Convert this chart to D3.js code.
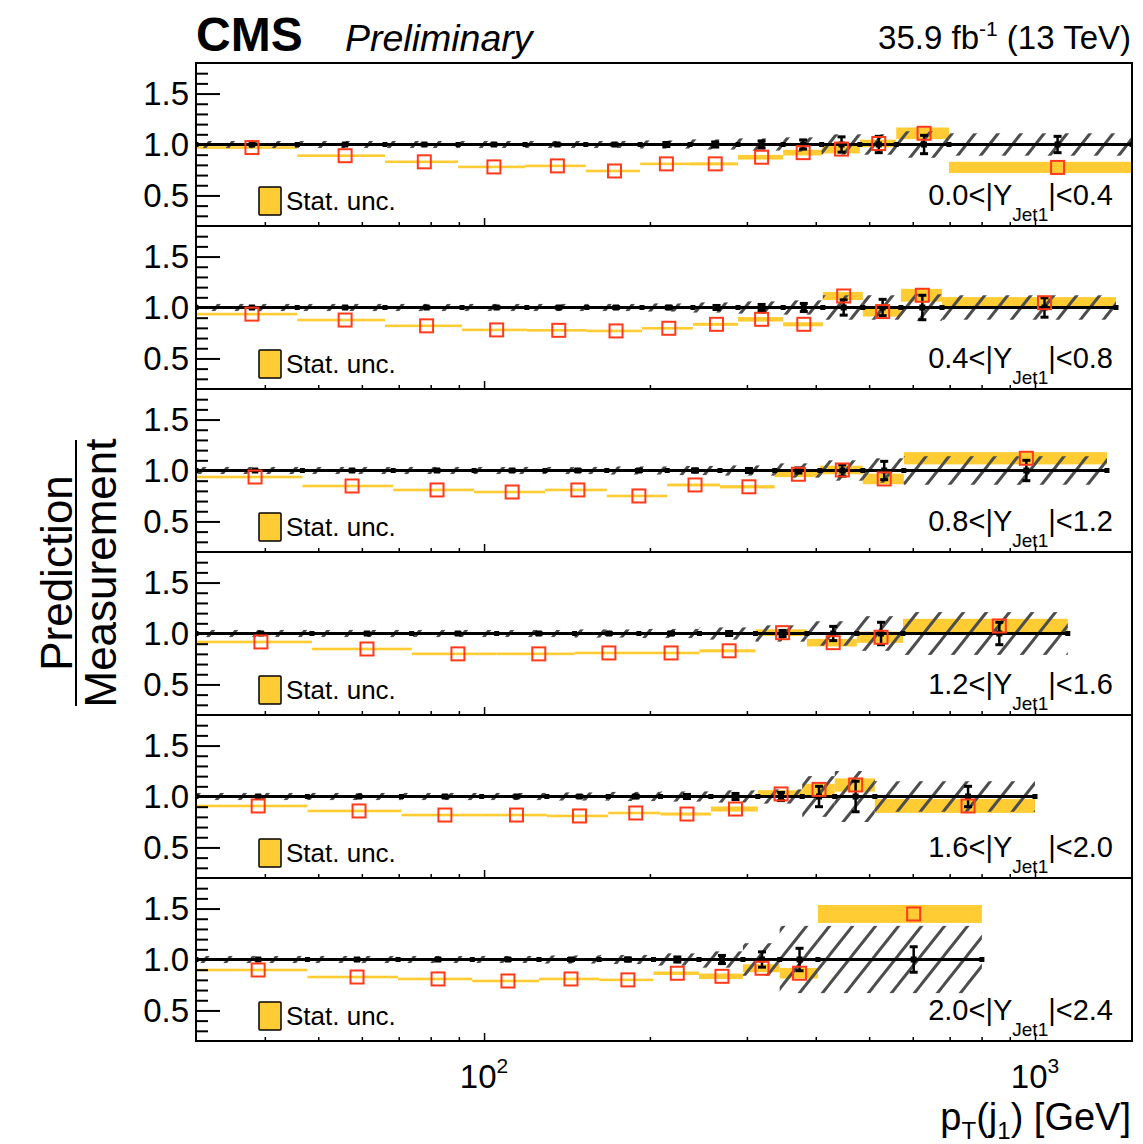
<!DOCTYPE html>
<html><head><meta charset="utf-8">
<script src="https://cdn.jsdelivr.net/npm/d3@7"></script>
<style>
html,body{margin:0;padding:0;background:#fff;}
svg{display:block;font-family:"Liberation Sans",Arial,Helvetica,sans-serif;}
</style></head>
<body><svg id="c" width="1143" height="1144"></svg>
<script>
// ---------------- data ----------------
const rapidityLow  = ["0.0","0.4","0.8","1.2","1.6","2.0"];
const rapidityHigh = ["0.4","0.8","1.2","1.6","2.0","2.4"];
const yTickValues = [0.5, 1.0, 1.5];
const yTickLabels = ["0.5", "1.0", "1.5"];
const xMajorTicks = [100, 1000];
const xTickExponents = ["2", "3"];
const xMinorTicks = [40,50,60,70,80,90,200,300,400,500,600,700,800,900];

// bin edges in GeV
const edges1 = [30,45.8,66.1,89.7,118.7,153,192,236.5,289,349,410,481,560,698,1500];
const edges2 = [30,45.8,66.1,91.2,119.6,153.7,193.5,239.4,289,349,412,487,571,678,1403];
const edges3 = [30,46.8,68.4,95.9,129,167,215,268,337,407,487,578,1351];
const edges4 = [30,48.7,73.9,105.4,146,191,246,311,385.5,475,576,1147];
const edges5 = [30,47.8,70.8,99,130,168,209,258,314,378,433,512,1000];
const edges6 = [30,47.8,69.8,95.2,125.8,161.8,203,245.5,295,344,403.6,801];

// prediction / measurement (red squares)
const pred1 = [0.97,0.89,0.83,0.78,0.79,0.74,0.81,0.81,0.875,0.92,0.955,1.01,1.11,0.775];
const pred2 = [0.935,0.877,0.82,0.78,0.776,0.77,0.796,0.835,0.884,0.835,1.113,0.96,1.12,1.047];
const pred3 = [0.936,0.848,0.809,0.789,0.809,0.75,0.858,0.84,0.963,1.005,0.917,1.12];
const pred4 = [0.917,0.848,0.8,0.8,0.809,0.809,0.83,1.008,0.91,0.963,1.074];
const pred5 = [0.907,0.858,0.818,0.818,0.809,0.838,0.828,0.877,1.025,1.07,1.113,0.907];
const pred6 = [0.897,0.828,0.809,0.789,0.809,0.8,0.865,0.835,0.914,0.865,1.447];

// statistical uncertainty of the ratio (yellow band, half height)
const stat1 = [0.006,0.006,0.007,0.008,0.01,0.01,0.012,0.015,0.023,0.028,0.043,0.037,0.057,0.055];
const stat2 = [0.006,0.006,0.007,0.008,0.01,0.01,0.012,0.015,0.022,0.02,0.04,0.049,0.063,0.055];
const stat3 = [0.006,0.007,0.008,0.009,0.01,0.012,0.014,0.016,0.028,0.042,0.052,0.06];
const stat4 = [0.006,0.007,0.008,0.009,0.01,0.012,0.015,0.033,0.037,0.055,0.07];
const stat5 = [0.006,0.007,0.008,0.009,0.01,0.012,0.015,0.025,0.037,0.055,0.065,0.068];
const stat6 = [0.006,0.007,0.008,0.009,0.01,0.012,0.017,0.027,0.039,0.052,0.088];

// measurement statistical error (black error bars at 1)
const meas1 = [0.003,0.003,0.004,0.005,0.006,0.008,0.02,0.025,0.035,0.045,0.075,0.08,0.09,0.08];
const meas2 = [0.003,0.003,0.004,0.005,0.006,0.008,0.012,0.02,0.03,0.04,0.075,0.08,0.12,0.095];
const meas3 = [0.003,0.004,0.005,0.006,0.008,0.01,0.015,0.02,0.025,0.055,0.09,0.1];
const meas4 = [0.003,0.004,0.005,0.006,0.008,0.012,0.02,0.03,0.07,0.11,0.11];
const meas5 = [0.003,0.004,0.005,0.006,0.008,0.012,0.02,0.03,0.04,0.1,0.15,0.1];
const meas6 = [0.003,0.004,0.005,0.006,0.01,0.015,0.025,0.04,0.075,0.11,0.125];

// systematic uncertainty of the measurement (hatched band, half height)
const sys1 = [0.035,0.035,0.035,0.035,0.035,0.035,0.04,0.05,0.06,0.07,0.1,0.1,0.13,0.11];
const sys2 = [0.035,0.035,0.035,0.035,0.035,0.035,0.04,0.05,0.06,0.07,0.12,0.12,0.13,0.12];
const sys3 = [0.035,0.035,0.035,0.035,0.035,0.04,0.045,0.05,0.07,0.1,0.12,0.14];
const sys4 = [0.035,0.035,0.035,0.035,0.04,0.045,0.06,0.08,0.12,0.17,0.21];
const sys5 = [0.035,0.035,0.035,0.035,0.04,0.045,0.05,0.06,0.07,0.2,0.25,0.15];
const sys6 = [0.035,0.035,0.035,0.035,0.04,0.045,0.06,0.08,0.16,0.33,0.33];

const panels = [
  {edges:edges1,pred:pred1,stat:stat1,meas:meas1,sys:sys1},
  {edges:edges2,pred:pred2,stat:stat2,meas:meas2,sys:sys2},
  {edges:edges3,pred:pred3,stat:stat3,meas:meas3,sys:sys3},
  {edges:edges4,pred:pred4,stat:stat4,meas:meas4,sys:sys4},
  {edges:edges5,pred:pred5,stat:stat5,meas:meas5,sys:sys5},
  {edges:edges6,pred:pred6,stat:stat6,meas:meas6,sys:sys6}
];

// ---------------- layout ----------------
const L = 196, R = 1132, TOP = 63, PH = 163;
const svg = d3.select("#c");
const x = d3.scaleLog().domain([30, 1500]).range([L, R]);
const YELLOW = "#ffcc33", RED = "#ff3a1a", HATCH = "#4d4d4d";

const defs = svg.append("defs");
const hp = defs.append("pattern").attr("id","hatch").attr("patternUnits","userSpaceOnUse")
  .attr("width",23).attr("height",29);
hp.append("path").attr("d","M0,29 L23,0 M-6,7.25 L6,-7.25 M17,36.25 L29,21.75")
  .attr("stroke",HATCH).attr("stroke-width",3).attr("fill","none");

panels.forEach((p, i) => {
  const top = TOP + PH * i;
  const y = d3.scaleLinear().domain([0.2, 1.8]).range([top + PH, top]);
  const g = svg.append("g");
  const cid = "clip" + i;
  defs.append("clipPath").attr("id", cid).append("rect")
    .attr("x", L).attr("y", top).attr("width", R - L).attr("height", PH);
  const pg = g.append("g").attr("clip-path", `url(#${cid})`);
  const bins = p.pred.map((v, k) => ({lo:p.edges[k], hi:p.edges[k+1], v, s:p.stat[k], m:p.meas[k], e:p.sys[k]}));

  // yellow stat band of prediction/measurement
  pg.selectAll("rect.stat").data(bins).join("rect").attr("class","stat")
    .attr("x", d => x(d.lo)).attr("width", d => x(d.hi) - x(d.lo))
    .attr("y", d => Math.min(y(d.v + d.s), y(d.v) - 1.3))
    .attr("height", d => Math.max(y(d.v - d.s) - y(d.v + d.s), 2.6))
    .attr("fill", YELLOW);

  // hatched systematic band
  pg.selectAll("rect.sys").data(bins).join("rect").attr("class","sys")
    .attr("x", d => x(d.lo)).attr("width", d => x(d.hi) - x(d.lo))
    .attr("y", d => y(1 + d.e)).attr("height", d => y(1 - d.e) - y(1 + d.e))
    .attr("fill", "url(#hatch)");

  // line at unity
  pg.append("line").attr("x1", x(p.edges[0])).attr("x2", x(p.edges[p.edges.length-1]))
    .attr("y1", y(1)).attr("y2", y(1)).attr("stroke","#000").attr("stroke-width",3);
  pg.selectAll("rect.edge").data(p.edges).join("rect").attr("class","edge")
    .attr("x", d => x(d) - 2.5).attr("y", y(1) - 2.5).attr("width",5).attr("height",5).attr("fill","#000");

  // measurement error bars
  bins.forEach(d => {
    const cx = x((d.lo + d.hi) / 2);
    const y1 = y(1 + d.m), y2 = y(1 - d.m);
    pg.append("line").attr("x1",cx).attr("x2",cx).attr("y1",y1).attr("y2",y2).attr("stroke","#000").attr("stroke-width",2.5);
    pg.append("line").attr("x1",cx-4).attr("x2",cx+4).attr("y1",y1).attr("y2",y1).attr("stroke","#000").attr("stroke-width",3);
    pg.append("line").attr("x1",cx-4).attr("x2",cx+4).attr("y1",y2).attr("y2",y2).attr("stroke","#000").attr("stroke-width",3);
    pg.append("rect").attr("x",cx-3).attr("y",y(1)-3).attr("width",6).attr("height",6).attr("fill","#000");
  });

  // red open squares
  pg.selectAll("rect.pt").data(bins).join("rect").attr("class","pt")
    .attr("x", d => x((d.lo + d.hi) / 2) - 6.5).attr("y", d => y(d.v) - 6.5)
    .attr("width",13).attr("height",13).attr("fill","none").attr("stroke",RED).attr("stroke-width",2);

  // frame
  g.append("rect").attr("x",L).attr("y",top).attr("width",R-L).attr("height",PH)
    .attr("fill","none").attr("stroke","#000").attr("stroke-width",2);

  // y axis
  const yMinor = d3.range(3, 18).map(v => v / 10).filter(v => yTickValues.indexOf(v) < 0);
  g.append("g").attr("transform",`translate(${L},0)`)
    .call(d3.axisLeft(y).tickValues(yMinor).tickSize(-12).tickFormat(""))
    .call(a => { a.select(".domain").remove(); a.selectAll("line").attr("stroke-width",2); });
  g.append("g").attr("transform",`translate(${L},0)`)
    .call(d3.axisLeft(y).tickValues(yTickValues).tickSize(-24).tickPadding(7)
      .tickFormat((d, k) => yTickLabels[k]))
    .call(a => { a.select(".domain").remove(); a.selectAll("line").attr("stroke-width",2);
      a.selectAll("text").attr("font-size",33).attr("fill","#000").attr("font-family","Liberation Sans, Arial, sans-serif"); });

  // x ticks (bottom, inward)
  g.append("g").attr("transform",`translate(0,${top+PH})`)
    .call(d3.axisBottom(x).tickValues(xMinorTicks).tickSize(-4).tickFormat(""))
    .call(a => { a.select(".domain").remove(); a.selectAll("line").attr("stroke-width",1.5); });
  g.append("g").attr("transform",`translate(0,${top+PH})`)
    .call(d3.axisBottom(x).tickValues(xMajorTicks).tickSize(-8).tickFormat(""))
    .call(a => { a.select(".domain").remove(); a.selectAll("line").attr("stroke-width",1.5); });

  // legend
  g.append("rect").attr("x",259).attr("y",top+124).attr("width",22).attr("height",28)
    .attr("fill",YELLOW).attr("stroke","#000").attr("stroke-width",1.5).attr("rx",1);
  g.append("text").attr("x",286).attr("y",top+147).attr("font-size",26).text("Stat. unc.");

  // rapidity label
  const t = g.append("text").attr("x",1113).attr("y",top+142).attr("text-anchor","end").attr("font-size",29);
  t.append("tspan").text(`${rapidityLow[i]}<|Y`);
  t.append("tspan").attr("dy",16).attr("font-size",19).text("Jet1");
  t.append("tspan").attr("dy",-16).text(`|<${rapidityHigh[i]}`);
});

// x tick labels
const bottom = TOP + PH * 6;
xMajorTicks.forEach((v, k) => {
  const t = svg.append("text").attr("x", x(v)).attr("y", bottom + 47).attr("text-anchor","middle").attr("font-size",33);
  t.append("tspan").text("10");
  t.append("tspan").attr("dy",-15).attr("font-size",21).text(xTickExponents[k]);
});

// x title
const xt = svg.append("text").attr("x",1131).attr("y",1130).attr("text-anchor","end").attr("font-size",38);
xt.append("tspan").text("p");
xt.append("tspan").attr("dy",9).attr("font-size",24).text("T");
xt.append("tspan").attr("dy",-9).text("(j");
xt.append("tspan").attr("dy",9).attr("font-size",24).text("1");
xt.append("tspan").attr("dy",-9).text(") [GeV]");

// y title (fraction)
const ytg = svg.append("g").attr("transform","translate(0,573) rotate(-90)");
ytg.append("text").attr("x",0).attr("y",72).attr("text-anchor","middle").attr("font-size",44).text("Prediction");
ytg.append("line").attr("x1",-133).attr("x2",133).attr("y1",76).attr("y2",76).attr("stroke","#000").attr("stroke-width",2);
ytg.append("text").attr("x",0).attr("y",116).attr("text-anchor","middle").attr("font-size",44).text("Measurement");

// header
svg.append("text").attr("x",196).attr("y",51).attr("font-size",48).attr("font-weight","bold").text("CMS");
svg.append("text").attr("x",345).attr("y",51).attr("font-size",37.5).attr("font-style","italic").text("Preliminary");
const lum = svg.append("text").attr("x",1131).attr("y",49).attr("text-anchor","end").attr("font-size",33);
lum.append("tspan").text("35.9 fb");
lum.append("tspan").attr("dy",-13).attr("font-size",21).text("-1");
lum.append("tspan").attr("dy",13).text(" (13 TeV)");
</script></body></html>
